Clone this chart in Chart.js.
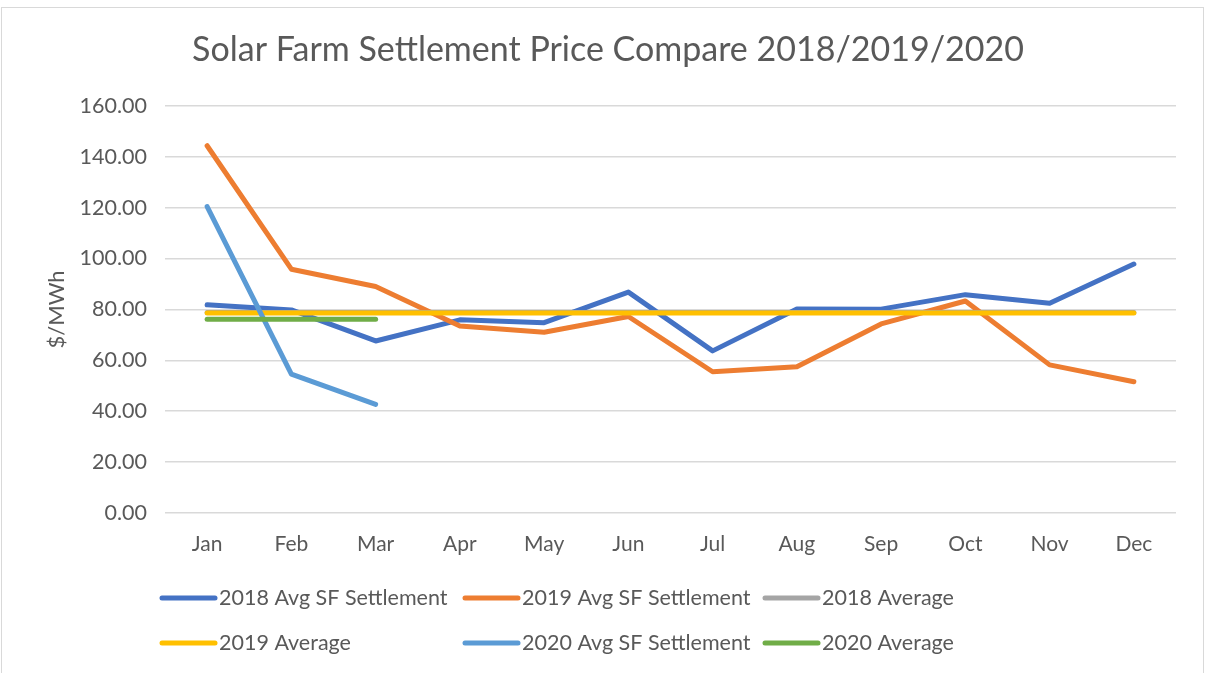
<!DOCTYPE html>
<html>
<head>
<meta charset="utf-8">
<script src="https://cdn.jsdelivr.net/npm/chart.js@4.4.1/dist/chart.umd.min.js"></script>
<style>
  html, body { margin: 0; padding: 0; background: #ffffff; }
  #wrap { position: relative; width: 1208px; height: 673px; }
  #frame { position: absolute; left: 1px; top: 7px; width: 1203px; height: 670px; border: 1px solid #d9d9d9; box-sizing: border-box; pointer-events: none; }
  canvas { display: block; }
</style>
</head>
<body>
<div id="wrap">
  <canvas id="c" width="1208" height="673"></canvas>
  <div id="frame"></div>
</div>
<script>
const months = ["Jan","Feb","Mar","Apr","May","Jun","Jul","Aug","Sep","Oct","Nov","Dec"];
const sf2018 = [81.8, 79.8, 67.6, 75.9, 74.8, 86.8, 63.7, 80.2, 80.1, 85.8, 82.4, 97.8];
const sf2019 = [144.3, 95.8, 89.0, 73.5, 71.0, 77.2, 55.5, 57.5, 74.3, 83.3, 58.2, 51.6];
const avg2018 = [78.8, 78.8, 78.8, 78.8, 78.8, 78.8, 78.8, 78.8, 78.8, 78.8, 78.8, 78.8];
const avg2019 = [78.6, 78.6, 78.6, 78.6, 78.6, 78.6, 78.6, 78.6, 78.6, 78.6, 78.6, 78.6];
const sf2020 = [120.4, 54.6, 42.7];
const avg2020 = [76.1, 76.1, 76.1];
const seriesNames = ["2018 Avg SF Settlement","2019 Avg SF Settlement","2018 Average","2019 Average","2020 Avg SF Settlement","2020 Average"];
const seriesColors = ["#4472C4","#ED7D31","#A5A5A5","#FFC000","#5B9BD5","#70AD47"];
const seriesData = [sf2018, sf2019, avg2018, avg2019, sf2020, avg2020];
const yTicks = [0, 20, 40, 60, 80, 100, 120, 140, 160];

const FONT = "Lato, 'Open Sans', sans-serif";
const TEXT = "#595959";

const datasets = seriesNames.map((name, i) => ({
  label: name,
  data: seriesData[i],
  borderColor: seriesColors[i],
  backgroundColor: seriesColors[i],
  borderWidth: 5,
  pointRadius: 0,
  pointHoverRadius: 0,
  borderCapStyle: 'round',
  borderJoinStyle: 'round',
  tension: 0,
  fill: false,
  order: seriesNames.length - i
}));

const gridLegend = {
  id: 'gridLegend',
  afterDraw(chart) {
    const ctx = chart.ctx;
    const cols = [160, 463, 763];
    const rows = [598, 643];
    ctx.save();
    ctx.font = "21.5px " + FONT;
    ctx.textBaseline = 'middle';
    ctx.textAlign = 'left';
    chart.data.datasets.forEach((ds, i) => {
      const x = cols[i % 3];
      const y = rows[Math.floor(i / 3)];
      ctx.strokeStyle = ds.borderColor;
      ctx.lineWidth = 5;
      ctx.lineCap = 'round';
      ctx.beginPath();
      ctx.moveTo(x + 2, y);
      ctx.lineTo(x + 55, y);
      ctx.stroke();
      ctx.fillStyle = TEXT;
      ctx.fillText(ds.label, x + 59, y);
    });
    ctx.restore();
  }
};

new Chart(document.getElementById('c'), {
  type: 'line',
  data: { labels: months, datasets },
  plugins: [gridLegend],
  options: {
    responsive: false,
    animation: false,
    events: [],
    layout: { padding: { left: 40, right: 32, top: 0, bottom: 105 } },
    plugins: {
      legend: { display: false },
      tooltip: { enabled: false },
      title: {
        display: true,
        text: "Solar Farm Settlement Price Compare 2018/2019/2020",
        color: TEXT,
        font: { family: FONT, size: 34, weight: 'normal' },
        padding: { top: 30, bottom: 35 }
      }
    },
    scales: {
      x: {
        offset: true,
        grid: { display: false, drawTicks: false },
        border: { display: false },
        ticks: { color: TEXT, font: { family: FONT, size: 21 }, padding: 19, maxRotation: 0 },
        afterFit(scale) { scale.height = 55; }
      },
      y: {
        min: 0, max: 160,
        afterBuildTicks(scale) { scale.ticks = yTicks.map(v => ({ value: v })); },
        grid: { color: '#d9d9d9', lineWidth: 1.5, drawTicks: false },
        border: { display: false },
        ticks: { color: TEXT, font: { family: FONT, size: 21.5 }, padding: 18, callback: v => Number(v).toFixed(2) },
        title: { display: true, text: "$/MWh", color: TEXT, font: { family: FONT, size: 22 }, padding: { top: 4, bottom: 0 } },
        afterFit(scale) { scale.width = 125; }
      }
    }
  }
});
</script>
</body>
</html>
